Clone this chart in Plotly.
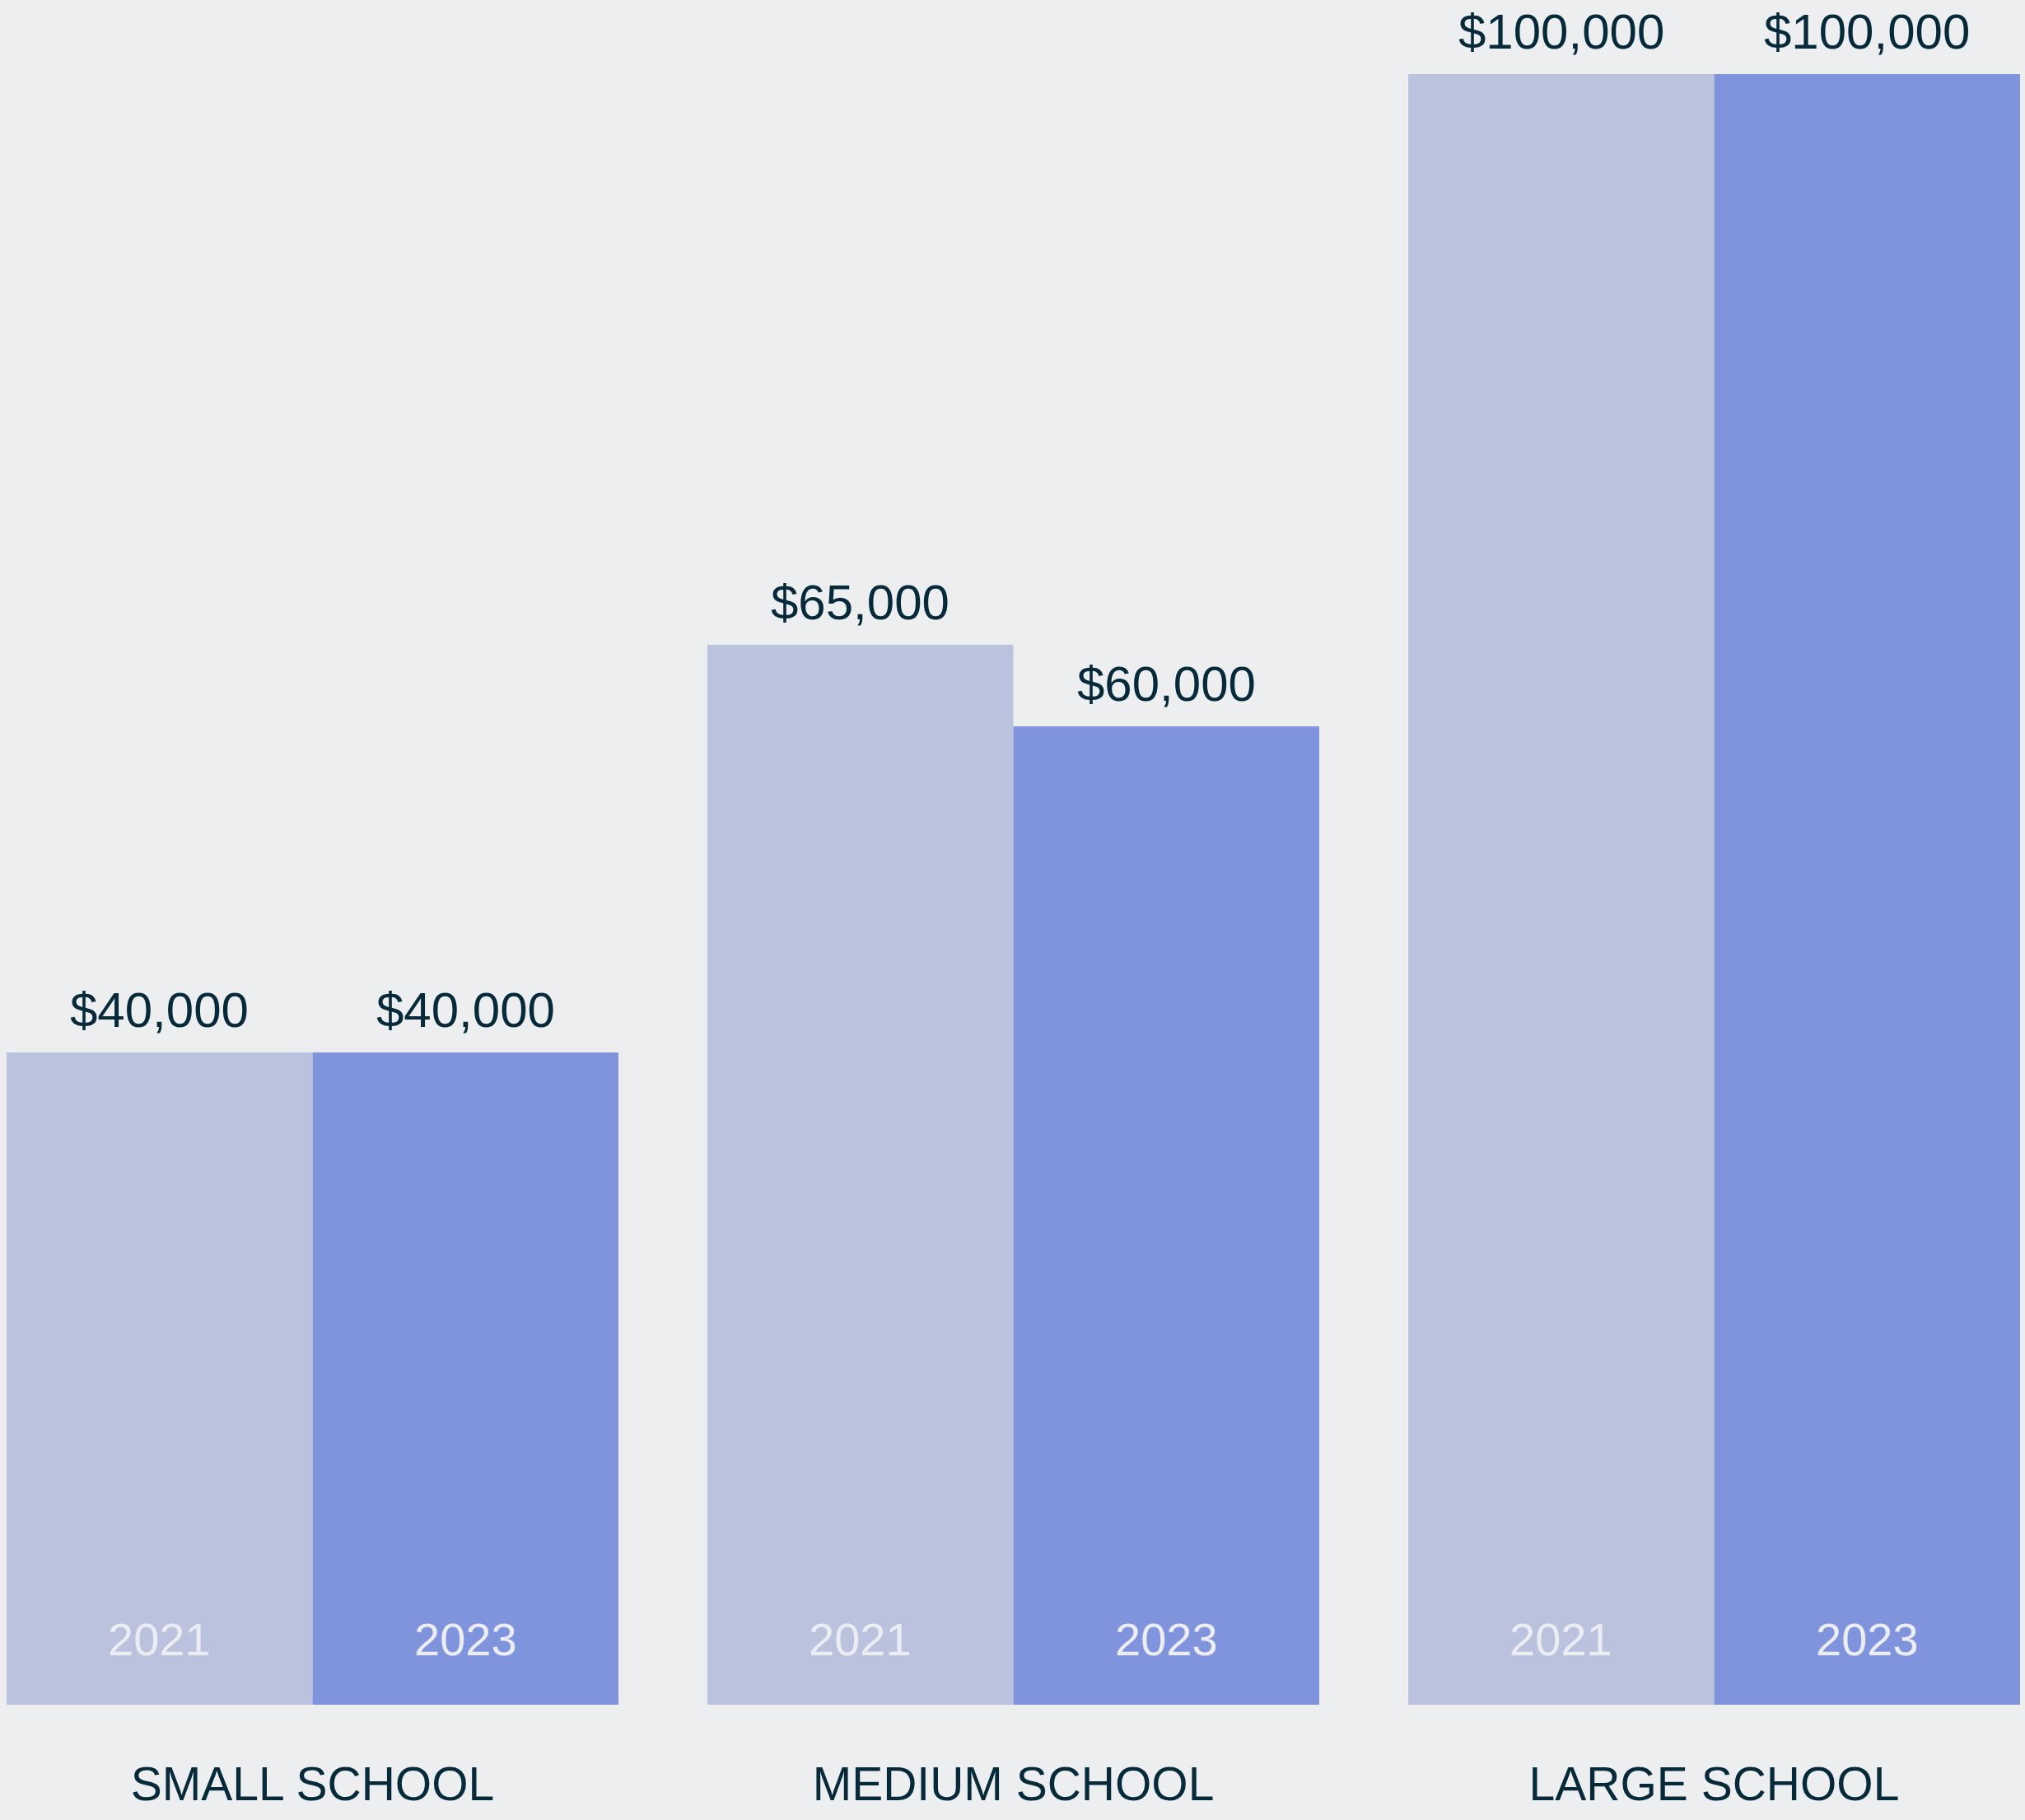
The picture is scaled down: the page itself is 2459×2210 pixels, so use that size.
import plotly.graph_objects as go

# School size categories and salary figures by survey year
categories = ["SMALL SCHOOL", "MEDIUM SCHOOL", "LARGE SCHOOL"]
years = ["2021", "2023"]
salary_2021 = [40000, 65000, 100000]
salary_2023 = [40000, 60000, 100000]

series = [salary_2021, salary_2023]
bar_colors = ["#bbc2de", "#8093dd"]
bg = "#edeef0"
ink = "#062a3a"
year_ink = "#ebedf2"
font_family = "Liberation Sans, Arial, sans-serif"

bargap = 0.127
n_series = len(series)
bar_w = (1 - bargap) / n_series

fig = go.Figure()
for yr, vals, col in zip(years, series, bar_colors):
    fig.add_trace(go.Bar(
        x=categories, y=vals, name=yr,
        marker=dict(color=col, line=dict(width=0)),
        hoverinfo="skip",
    ))

annotations = []
for i, (yr, vals) in enumerate(zip(years, series)):
    offset = (i - (n_series - 1) / 2) * bar_w
    for j, v in enumerate(vals):
        # value label above each bar
        annotations.append(dict(
            x=j + offset, y=v, xref="x", yref="y",
            text=f"${v:,.0f}", showarrow=False,
            yanchor="bottom", xanchor="center", yshift=16,
            font=dict(family=font_family, size=60, color=ink),
        ))
        # year label near the foot of each bar
        annotations.append(dict(
            x=j + offset, y=0, xref="x", yref="y",
            text=yr, showarrow=False,
            yanchor="middle", xanchor="center", yshift=80,
            font=dict(family=font_family, size=56, color=year_ink),
        ))

fig.update_layout(
    width=2459, height=2210,
    margin=dict(l=0, r=0, t=0, b=140, pad=0),
    paper_bgcolor=bg, plot_bgcolor=bg,
    barmode="group", bargap=bargap, bargroupgap=0,
    showlegend=False,
    annotations=annotations,
    font=dict(family=font_family, color=ink),
)
fig.update_xaxes(
    range=[-0.446, 2.4436], showgrid=False, zeroline=False, showline=False,
    ticks="", tickfont=dict(family=font_family, size=57, color=ink),
    ticklabelstandoff=58, automargin=False,
)
fig.update_yaxes(
    range=[0, 104545], showgrid=False, zeroline=False, showline=False,
    showticklabels=False, ticks="",
)

fig.write_html("out.html")
